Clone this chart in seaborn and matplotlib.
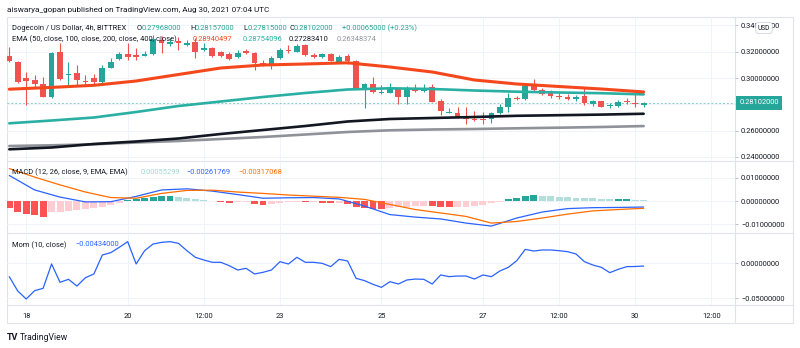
import numpy as np
import pandas as pd
import matplotlib
matplotlib.use("Agg")
import matplotlib.pyplot as plt
import matplotlib.transforms as mtrans
import seaborn as sns

# ---------------- data ----------------
tick_pos = [2, 14, 23, 32, 44, 56, 65, 74, 83]
tick_labels = ["18", "20", "12:00", "23", "25", "27", "12:00", "30", "12:00"]

opens = [0.3170, 0.3119, 0.2998, 0.2983, 0.2952, 0.2858, 0.3195, 0.3023, 0.3040, 0.2977,
         0.3002, 0.2970, 0.3078, 0.3142, 0.3180, 0.3169, 0.3169, 0.3182, 0.3289, 0.3258,
         0.3281, 0.3251, 0.3276, 0.3213, 0.3226, 0.3195, 0.3182, 0.3157, 0.3205, 0.3188,
         0.3116, 0.3099, 0.3150, 0.3213, 0.3200, 0.3251, 0.3175, 0.3157, 0.3182, 0.3124,
         0.3169, 0.3131, 0.2922, 0.2954, 0.2884, 0.2888, 0.2914, 0.2853, 0.2926, 0.2903,
         0.2934, 0.2827, 0.2736, 0.2736, 0.2701, 0.2688, 0.2686, 0.2688, 0.2736, 0.2782,
         0.2850, 0.2838, 0.2947, 0.2909, 0.2884, 0.2863, 0.2858, 0.2838, 0.2863, 0.2800,
         0.2825, 0.2787, 0.2790, 0.2820, 0.2808, 0.27968]
highs = [0.3238, 0.3129, 0.3046, 0.3023, 0.3008, 0.3198, 0.3264, 0.3122, 0.3099, 0.3023,
         0.3030, 0.3099, 0.3152, 0.3198, 0.3264, 0.3228, 0.3205, 0.3327, 0.3319, 0.3304,
         0.3312, 0.3289, 0.3304, 0.3266, 0.3236, 0.3205, 0.3198, 0.3213, 0.3220, 0.3198,
         0.3137, 0.3167, 0.3228, 0.3251, 0.3258, 0.3258, 0.3190, 0.3190, 0.3190, 0.3175,
         0.3182, 0.3137, 0.2962, 0.3010, 0.2947, 0.2964, 0.2924, 0.2939, 0.2952, 0.2954,
         0.2952, 0.2840, 0.2770, 0.2782, 0.2782, 0.2749, 0.2744, 0.2742, 0.2802, 0.2884,
         0.2863, 0.2947, 0.2990, 0.2922, 0.2909, 0.2896, 0.2878, 0.2871, 0.2922, 0.2833,
         0.2829, 0.2810, 0.2833, 0.2846, 0.2891, 0.28157]
lows = [0.3122, 0.2962, 0.2795, 0.2934, 0.2856, 0.2848, 0.2985, 0.2947, 0.2947, 0.2947,
        0.2947, 0.2962, 0.3076, 0.3137, 0.3137, 0.3137, 0.3167, 0.3175, 0.3190, 0.3243,
        0.3213, 0.3243, 0.3152, 0.3205, 0.3160, 0.3160, 0.3137, 0.3152, 0.3182, 0.3061,
        0.3091, 0.3068, 0.3144, 0.3190, 0.3198, 0.3167, 0.3152, 0.3152, 0.3129, 0.3122,
        0.3106, 0.2920, 0.2772, 0.2886, 0.2878, 0.2886, 0.2800, 0.2802, 0.2894, 0.2894,
        0.2818, 0.2719, 0.2732, 0.2696, 0.2650, 0.2673, 0.2650, 0.2660, 0.2726, 0.2744,
        0.2833, 0.2833, 0.2901, 0.2871, 0.2848, 0.2840, 0.2833, 0.2825, 0.2795, 0.2787,
        0.2780, 0.2772, 0.2783, 0.2802, 0.2782, 0.27815]
closes = [0.3132, 0.2970, 0.2979, 0.2958, 0.2858, 0.3192, 0.2992, 0.3034, 0.2985, 0.2967,
          0.2970, 0.3078, 0.3119, 0.3180, 0.3162, 0.3163, 0.3182, 0.3296, 0.3266, 0.3276,
          0.3266, 0.3264, 0.3200, 0.3230, 0.3169, 0.3169, 0.3144, 0.3192, 0.3192, 0.3116,
          0.3106, 0.3150, 0.3213, 0.3205, 0.3243, 0.3175, 0.3157, 0.3180, 0.3131, 0.3162,
          0.3131, 0.2922, 0.2954, 0.2891, 0.2891, 0.2922, 0.2853, 0.2926, 0.2901, 0.2926,
          0.2820, 0.2751, 0.2744, 0.2701, 0.2688, 0.2681, 0.2681, 0.2732, 0.2777, 0.2850,
          0.2840, 0.2939, 0.2909, 0.2878, 0.2863, 0.2853, 0.2840, 0.2858, 0.2808, 0.2825,
          0.2782, 0.2795, 0.2820, 0.2815, 0.2802, 0.28102]

ema_idx = [0, 5, 10, 15, 20, 25, 30, 35, 40, 45, 50, 55, 60, 65, 70, 75]
ema50 = [0.29149, 0.29286, 0.29445, 0.29772, 0.30266, 0.30760, 0.30988, 0.31064,
         0.31155, 0.30836, 0.30456, 0.29848, 0.29544, 0.29354, 0.29164, 0.28940]
ema100 = [0.26558, 0.26770, 0.26998, 0.27416, 0.27872, 0.28214, 0.28556, 0.28860,
          0.29126, 0.29217, 0.29164, 0.29050, 0.28959, 0.28898, 0.28845, 0.28754]
ema200 = [0.24582, 0.24719, 0.24985, 0.25175, 0.25403, 0.25745, 0.26049, 0.26353,
          0.26695, 0.26885, 0.26960, 0.27036, 0.27128, 0.27173, 0.27219, 0.27283]
ema400 = [0.24833, 0.24886, 0.24962, 0.25099, 0.25213, 0.25365, 0.25517, 0.25707,
          0.25897, 0.26026, 0.26087, 0.26125, 0.26178, 0.26224, 0.26277, 0.26348]

macd_idx = [0, 3, 6, 9, 12, 15, 18, 21, 24, 27, 30, 33, 36, 39, 42, 45, 48, 51, 54,
            57, 60, 63, 66, 69, 72, 75]
macd_line = [0.0111, 0.0048, 0.0017, -0.0004, -0.0003, 0.0020, 0.0048, 0.0053, 0.0043,
             0.0028, 0.0012, 0.0014, 0.0015, 0.0009, -0.0022, -0.0059, -0.0070, -0.0078,
             -0.0096, -0.0109, -0.0074, -0.0048, -0.0033, -0.0029, -0.0028, -0.00262]
signal_line = [0.0141, 0.0104, 0.0070, 0.0039, 0.0015, 0.0012, 0.0033, 0.0046, 0.0047,
               0.0039, 0.0033, 0.0026, 0.0021, 0.0016, 0.0007, -0.0015, -0.0037, -0.0052,
               -0.0067, -0.0096, -0.0089, -0.0074, -0.0057, -0.0043, -0.0037, -0.00317]
macd_hist = [-0.00317, -0.00465, -0.00565, -0.00587, -0.00683, -0.00491, -0.00465, -0.00435,
             -0.00391, -0.00348, -0.00317, -0.00248, -0.00174, -0.00100, 0.00065, 0.00074,
             0.00117, 0.00187, 0.00196, 0.00198, 0.00161, 0.00117, 0.00087, 0.00050,
             0.00020, -0.00050, -0.00090, -0.00060, -0.00050, -0.00140, -0.00170, -0.00110,
             -0.00070, -0.00040, -0.00030, -0.00060, -0.00040, -0.00070, -0.00100, -0.00070,
             -0.00140, -0.00240, -0.00310, -0.00350, -0.00360, -0.00320, -0.00280, -0.00250,
             -0.00230, -0.00200, -0.00210, -0.00250, -0.00280, -0.00270, -0.00250, -0.00200,
             -0.00170, -0.00100, -0.00030, 0.00090, 0.00150, 0.00230, 0.00260, 0.00230,
             0.00220, 0.00190, 0.00160, 0.00140, 0.00130, 0.00120, 0.00080, 0.00075,
             0.00080, 0.00085, 0.00060, 0.00055]
mom = [-0.0195, -0.0400, -0.0514, -0.0395, -0.0362, -0.0014, -0.0276, -0.0233, -0.0329, -0.0210,
       -0.0157, 0.0114, 0.0148, 0.0224, 0.0305, -0.0014, 0.0176, 0.0271, 0.0295, 0.0305,
       0.0281, 0.0176, 0.0081, 0.0043, 0.0010, 0.0010, -0.0038, -0.0100, -0.0076, -0.0157,
       -0.0133, -0.0100, 0.0019, -0.0014, 0.0081, 0.0010, 0.0010, -0.0005, -0.0052, 0.0052,
       0.0029, -0.0219, -0.0252, -0.0305, -0.0348, -0.0267, -0.0300, -0.0243, -0.0229, -0.0233,
       -0.0300, -0.0171, -0.0195, -0.0186, -0.0186, -0.0229, -0.0171, -0.0195, -0.0114, -0.0062,
       0.0033, 0.0195, 0.0171, 0.0186, 0.0186, 0.0176, 0.0162, 0.0129, 0.0019, -0.0029,
       -0.0062, -0.0138, -0.0090, -0.0052, -0.0050, -0.00434]

price_ticks = [0.24, 0.26, 0.28, 0.30, 0.32, 0.34]
macd_ticks = [-0.01, 0.0, 0.01]
mom_ticks = [-0.05, 0.0]

# ---------------- style ----------------
sns.set_style("white")
plt.rcParams["font.family"] = ["Roboto", "DejaVu Sans"]

GREEN = "#26A69A"
RED = "#EF5350"
TXT = "#131722"
GRID = "#F0F3FA"
FRAME = "#E0E3EB"
BLUE = "#2962FF"
ORANGE = "#FF6D00"
C50, C100, C200, C400 = "#F4471C", "#2AAFA3", "#131722", "#8F9299"
FS = 5.4

W, H = 800, 348
fig = plt.figure(figsize=(W / 100, H / 100), dpi=100)
fig.patch.set_facecolor("white")


def fx(px):
    return px / W


def fy(py):
    return 1 - py / H


L_PX, R_PX = 7, 735


def panel(top, bottom):
    return fig.add_axes([fx(L_PX), fy(bottom), (R_PX - L_PX) / W, (bottom - top) / H])


bg = fig.add_axes([0, 0, 1, 1], zorder=-5)
bg.set_xlim(0, W)
bg.set_ylim(H, 0)
bg.axis("off")
bg.plot([7, 793, 793, 7, 7], [17, 17, 323, 323, 17], color=FRAME, lw=0.8)
bg.plot([735, 735], [17, 323], color=FRAME, lw=0.8)
for yy in (161, 233, 305):
    bg.plot([7, 793], [yy, yy], color=FRAME, lw=0.8)

ax1 = panel(17, 161)
ax2 = panel(161, 233)
ax3 = panel(233, 305)

X_LO, X_HI = -0.27, 85.8


def fmt(v):
    return f"{v:.8f}".replace("-", "\u2212")


def style(ax, yticks, ylim, hide=()):
    ax.set_facecolor("none")
    for s in ax.spines.values():
        s.set_visible(False)
    ax.set_xlim(X_LO, X_HI)
    ax.set_ylim(*ylim)
    ax.set_xticks(tick_pos)
    ax.yaxis.tick_right()
    ax.set_yticks(yticks)
    ax.set_yticklabels(["" if v in hide else fmt(v) for v in yticks])
    ax.tick_params(axis="y", length=2, width=0.6, color="#B2B5BE", pad=2.3,
                   labelsize=FS, labelcolor=TXT)
    ax.grid(True, color=GRID, lw=0.7)
    ax.set_axisbelow(True)
    ax.set_xlabel("")
    ax.set_ylabel("")


# ---------------- main price panel ----------------
idx = np.arange(len(opens))
o = np.array(opens)
c = np.array(closes)
h = np.array(highs)
l = np.array(lows)
cols = np.where(c >= o, GREEN, RED)
ax1.vlines(idx, l, h, colors=cols, linewidth=0.8, zorder=3)
ax1.bar(idx, np.maximum(np.abs(c - o), 0.0009), bottom=np.minimum(o, c), width=0.68,
        color=cols, linewidth=0, zorder=4)

for vals, colr, lw in ((ema400, C400, 1.9), (ema200, C200, 1.9), (ema100, C100, 1.9), (ema50, C50, 2.2)):
    sns.lineplot(x=ema_idx, y=vals, ax=ax1, color=colr, linewidth=lw, zorder=5)

ax1.axhline(closes[-1], color=GREEN, lw=0.7, ls=(0, (2, 2)), alpha=0.55, zorder=2)
style(ax1, price_ticks, (0.23693, 0.346353), hide=(0.28,))
ax1.tick_params(axis="x", length=0, labelbottom=False)

tr = mtrans.blended_transform_factory(ax1.transAxes, ax1.transData)
ax1.text(1.0 + 4.5 / (R_PX - L_PX), closes[-1], fmt(closes[-1]), transform=tr, ha="left",
         va="center", color="white", fontsize=FS, clip_on=False, zorder=20,
         bbox=dict(boxstyle="square,pad=0.45", fc=GREEN, ec="none"))

# ---------------- MACD panel ----------------
hist = np.array(macd_hist)
prev = np.concatenate([[hist[0] + 1e-9], hist[:-1]])
klass = np.where(hist >= 0, np.where(hist >= prev, "up_strong", "up_weak"),
                 np.where(hist <= prev, "dn_strong", "dn_weak"))
hdf = pd.DataFrame({"i": idx, "v": hist, "k": klass})
hpal = {"up_strong": "#26A69A", "up_weak": "#B2DFDB", "dn_strong": "#FF5252", "dn_weak": "#FFCDD2"}
sns.barplot(data=hdf, x="i", y="v", hue="k", palette=hpal, dodge=False, native_scale=True,
            errorbar=None, width=0.82, legend=False, saturation=1, linewidth=0, ax=ax2)
sns.lineplot(x=macd_idx, y=macd_line, ax=ax2, color=BLUE, linewidth=0.9, zorder=5)
sns.lineplot(x=macd_idx, y=signal_line, ax=ax2, color=ORANGE, linewidth=0.9, zorder=5)
style(ax2, macd_ticks, (-0.01391, 0.01739))
ax2.tick_params(axis="x", length=0, labelbottom=False)

# ---------------- Momentum panel ----------------
sns.lineplot(x=idx, y=mom, ax=ax3, color=BLUE, linewidth=0.9, zorder=5)
style(ax3, mom_ticks, (-0.06, 0.04286))
ax3.set_xticklabels(tick_labels)
ax3.tick_params(axis="x", length=2, width=0.6, color="#B2B5BE", pad=3.5,
                labelsize=FS, labelcolor=TXT)

# ---------------- texts ----------------


def put(xp, yp, s, color=TXT, size=FS, **kw):
    fig.text(fx(xp), fy(yp), s, color=color, fontsize=size, ha="left", va="center", **kw)


put(7, 10, "aiswarya_gopan published on TradingView.com, Aug 30, 2021 07:04 UTC", size=5.9)

put(12.5, 28, "Dogecoin / US Dollar, 4h, BITTREX")
put(137, 28, "O")
put(142, 28, "0.27968000", GREEN)
put(190, 28, "H")
put(195, 28, "0.28157000", GREEN)
put(243, 28, "L")
put(247.5, 28, "0.27815000", GREEN)
put(289, 28, "C")
put(293.5, 28, "0.28102000", GREEN)
put(342, 28, "+0.00065000 (+0.23%)", GREEN)

put(12.5, 39.5, "EMA (50, close, 100, close, 200, close, 400, close)")
put(193, 39.5, "0.28940497", C50)
put(243, 39.5, "0.28754096", C100)
put(289, 39.5, "0.27283410", C200)
put(337, 39.5, "0.26348374", C400)

put(12.5, 172.5, "MACD (12, 26, close, 9, EMA, EMA)")
put(141, 172.5, "0.00055299", "#9ED8D0")
put(186, 172.5, "\u22120.00261769", BLUE)
put(238, 172.5, "\u22120.00317068", ORANGE)

put(12.5, 245, "Mom (10, close)")
put(75, 245, "\u22120.00434000", BLUE)

fig.text(fx(764), fy(28), "USD", color=TXT, fontsize=4.8, ha="center", va="center", zorder=30,
         bbox=dict(boxstyle="round,pad=0.3,rounding_size=0.4", fc="white", ec="#D1D4DC", lw=0.6))

put(7, 337, "TV", size=6.5, fontweight="bold")
put(20, 337, "TradingView", size=6.2)

fig.savefig("out.png", dpi=100, facecolor="white")
